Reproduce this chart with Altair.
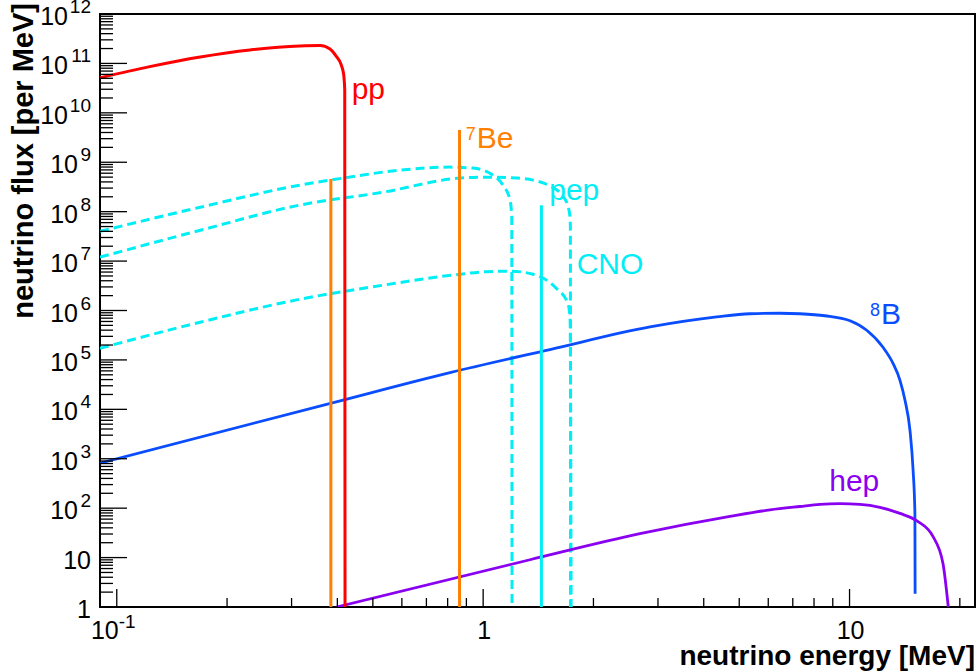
import altair as alt
import pandas as pd

# Plot area (pixels) and font
W, H = 875, 593
FONT = "Liberation Sans"

# ---- solar neutrino spectra: energy [MeV] and flux [per MeV] ----
pp_E = [0.090, 0.123, 0.169, 0.231, 0.316, 0.359, 0.382, 0.397, 0.409, 0.416, 0.419, 0.4198]
pp_F = [5.1e10, 8.6e10, 1.35e11, 1.87e11, 2.25e11, 2.3e11, 1.95e11, 1.4e11, 9.7e10, 6.1e10, 2.9e10, 1.0]

n13_E = [0.090, 0.169, 0.316, 0.414, 0.593, 0.812, 0.938, 1.064, 1.133, 1.184, 1.197, 1.199]
n13_F = [4.0e7, 1.23e8, 3.44e8, 4.77e8, 6.93e8, 7.97e8, 7.61e8, 5.48e8, 3.44e8, 1.71e8, 7.7e7, 1.0]

o15_E = [0.090, 0.169, 0.316, 0.533, 0.864, 1.024, 1.237, 1.368, 1.522, 1.651, 1.704, 1.725, 1.730, 1.732]
o15_F = [1.2e7, 4.2e7, 1.36e8, 2.48e8, 4.78e8, 5.0e8, 4.78e8, 4.35e8, 3.29e8, 2.06e8, 1.29e8, 8.1e7, 5.1e7, 1.0]

f17_E = [0.090, 0.169, 0.316, 0.533, 0.864, 1.024, 1.184, 1.368, 1.583, 1.704, 1.728, 1.738]
f17_F = [1.72e5, 5.8e5, 1.69e6, 3.25e6, 5.42e6, 6.10e6, 6.24e6, 5.42e6, 2.82e6, 1.40e6, 6.3e5, 1.0]

b8_E = [0.090, 0.390, 0.812, 1.522, 2.853, 4.339, 5.348, 6.458, 7.322, 8.567, 10.03, 11.14,
        12.34, 13.14, 13.73, 14.17, 14.62, 14.91, 15.08, 15.10]
b8_F = [817, 1.37e4, 5.54e4, 1.62e5, 4.64e5, 7.40e5, 8.59e5, 8.79e5, 8.59e5, 7.83e5, 6.20e5, 3.98e5,
        1.80e5, 8.55e4, 3.87e4, 1.52e4, 3.76e3, 582, 78, 1.85]

hep_E = [0.398, 1.342, 2.679, 4.717, 6.065, 7.322, 8.30, 9.41, 10.67, 12.10, 13.73, 15.28, 16.89, 17.99, 18.6]
hep_F = [1.0, 9.04, 30.4, 68.0, 92.2, 108, 119, 123, 119, 104, 78.3, 55.2, 26.8, 7.6, 1.0]

# mono-energetic lines
be7_E = [0.384, 0.862]
be7_F = [4.6e8, 4.5e9]
pep_E = [1.442]
pep_F = [1.35e8]

# axis ticks
y_exponents = list(range(0, 13))
x_major = [0.1, 1, 10]
x_minor = [0.2, 0.3, 0.4, 0.5, 0.6, 0.7, 0.8, 0.9, 2, 3, 4, 5, 6, 7, 8, 9, 20]
x_label_base = ["10", "1", "10"]
x_label_sup = ["-1", "", ""]

RED = "#ff0000"
ORANGE = "#ff7f00"
CYAN = "#00eef5"
BLUE = "#0a4dff"
VIOLET = "#8a00f0"

xs = alt.Scale(type="log", domain=[0.09, 22], nice=False)
ys = alt.Scale(type="log", domain=[1, 1e12], nice=False)


def curve(E, F, color, dash=None, width=3):
    df = pd.DataFrame({"E": E, "F": F})
    kw = dict(color=color, strokeWidth=width, interpolate="monotone", clip=True)
    if dash:
        kw["strokeDash"] = dash
    return alt.Chart(df).mark_line(**kw).encode(
        x=alt.X("E:Q", scale=xs, axis=None),
        y=alt.Y("F:Q", scale=ys, axis=None),
    )


def lines(E, F, color):
    df = pd.DataFrame({"E": E, "F": F})
    return alt.Chart(df).mark_rule(color=color, strokeWidth=3).encode(
        x=alt.X("E:Q", scale=xs, axis=None),
        y=alt.Y("F:Q", scale=ys, axis=None),
        y2=alt.datum(1),
    )


def label(text, E, F, color, size=30, align="left", dx=0, dy=0):
    return alt.Chart(pd.DataFrame({"t": [text]})).mark_text(
        font=FONT, fontSize=size, color=color, align=align, baseline="alphabetic", dx=dx, dy=dy
    ).encode(
        x=alt.X(datum=E, scale=xs, axis=None),
        y=alt.Y(datum=F, scale=ys, axis=None),
        text="t:N",
    )


DASH = [9, 5]
layers = [
    curve(n13_E, n13_F, CYAN, DASH),
    curve(o15_E, o15_F, CYAN, DASH),
    curve(f17_E, f17_F, CYAN, DASH),
    curve(b8_E, b8_F, BLUE, width=2.8),
    curve(hep_E, hep_F, VIOLET, width=2.8),
    lines(be7_E, be7_F, ORANGE),
    lines(pep_E, pep_F, CYAN),
    curve(pp_E, pp_F, RED),
    label("pp", 0.4377, 1.87e10, RED),
    label("Be", 0.960, 1.9e9, ORANGE),
    label("7", 0.960, 1.9e9, ORANGE, size=18, align="right", dx=-1, dy=-8),
    label("pep", 1.515, 1.71e8, CYAN),
    label("CNO", 1.80, 5.6e6, CYAN),
    label("B", 12.18, 5.27e5, BLUE),
    label("8", 12.18, 5.27e5, BLUE, size=18, align="right", dx=-1, dy=-8),
    label("hep", 8.80, 221, VIOLET),
]

# ---- inward ticks ----
y_major = [10.0 ** n for n in y_exponents]
y_minor = [k * 10.0 ** n for n in y_exponents[:-1] for k in range(2, 10)]


def ytick(vals, length):
    return alt.Chart(pd.DataFrame({"v": vals})).mark_rule(color="black", strokeWidth=1.3).encode(
        y=alt.Y("v:Q", scale=ys, axis=None), x=alt.value(0), x2=alt.value(length)
    )


def xtick(vals, length):
    return alt.Chart(pd.DataFrame({"v": vals})).mark_rule(color="black", strokeWidth=1.3).encode(
        x=alt.X("v:Q", scale=xs, axis=None), y=alt.value(H), y2=alt.value(H - length)
    )


layers += [ytick(y_major, 27), ytick(y_minor, 13), xtick(x_major, 18), xtick(x_minor, 9)]

# ---- tick labels with exponents ----
ylab = pd.DataFrame({
    "v": y_major,
    "base": ["1" if n == 0 else "10" for n in y_exponents],
    "sup": ["" if n < 2 else str(n) for n in y_exponents],
})
ylab["nsup"] = ylab["sup"].str.len()


def ytext(df, field, x, size, dy):
    return alt.Chart(df).mark_text(
        font=FONT, fontSize=size, align="right", baseline="middle", dy=dy, color="black"
    ).encode(y=alt.Y("v:Q", scale=ys, axis=None), x=alt.value(x), text=f"{field}:N")


layers += [
    ytext(ylab[ylab.nsup == 0], "base", -9, 25, 3),
    ytext(ylab[ylab.nsup == 1], "base", -22, 25, 3),
    ytext(ylab[ylab.nsup == 2], "base", -32, 25, 3),
    ytext(ylab[ylab.nsup > 0], "sup", -9, 19, -7),
]

xlab = pd.DataFrame({"v": x_major, "base": x_label_base, "sup": x_label_sup})


def xtext(df, field, align, size, dx, dy):
    return alt.Chart(df).mark_text(
        font=FONT, fontSize=size, align=align, baseline="middle", dx=dx, dy=dy, color="black"
    ).encode(x=alt.X("v:Q", scale=xs, axis=None), y=alt.value(H + 24), text=f"{field}:N")


layers += [
    xtext(xlab[xlab.sup == ""], "base", "center", 25, 1, 0),
    xtext(xlab[xlab.sup != ""], "base", "right", 25, 2, 0),
    xtext(xlab[xlab.sup != ""], "sup", "left", 19, 2, -9),
]

# ---- axis titles ----
one = pd.DataFrame({"a": [0]})
layers += [
    alt.Chart(one).mark_text(
        text="neutrino flux [per MeV]", font=FONT, fontSize=29, fontWeight="bold",
        angle=270, align="right", baseline="middle", color="black",
    ).encode(x=alt.value(-76), y=alt.value(-11)),
    alt.Chart(one).mark_text(
        text="neutrino energy [MeV]", font=FONT, fontSize=28, fontWeight="bold",
        align="right", baseline="alphabetic", color="black",
    ).encode(x=alt.value(W), y=alt.value(H + 58)),
]

chart = alt.layer(*layers).properties(
    width=W,
    height=H,
    autosize=alt.AutoSizeParams(type="none"),
    padding={"left": 100, "top": 14, "right": 3, "bottom": 65},
    background="white",
).configure_view(stroke="black", strokeWidth=2)

chart.save("out.html", embed_options={"renderer": "svg", "actions": False})
